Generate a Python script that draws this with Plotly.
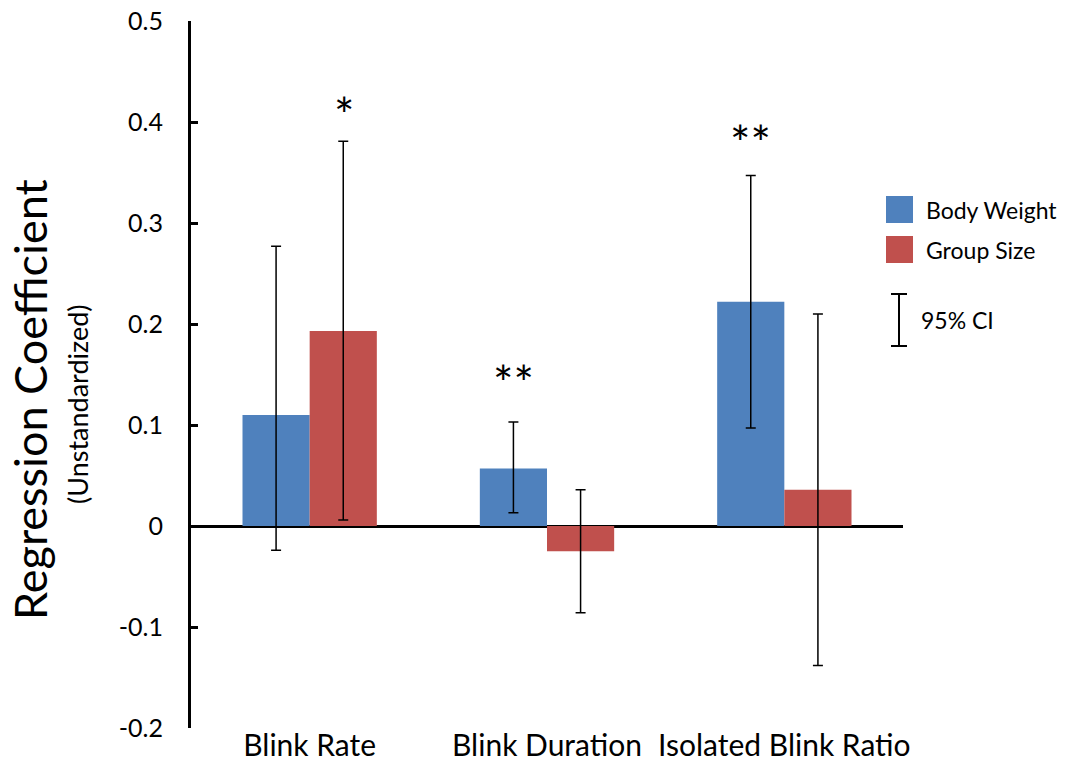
import plotly.graph_objects as go

categories = ["Blink Rate", "Blink Duration", "Isolated Blink Ratio"]
body_weight = [0.110, 0.057, 0.222]
body_weight_hi = [0.277, 0.103, 0.347]
body_weight_lo = [-0.024, 0.013, 0.097]
group_size = [0.193, -0.025, 0.036]
group_size_hi = [0.381, 0.036, 0.210]
group_size_lo = [0.006, -0.086, -0.138]
y_ticks = [-0.2, -0.1, 0, 0.1, 0.2, 0.3, 0.4, 0.5]
y_tick_labels = ["-0.2", "-0.1", "0", "0.1", "0.2", "0.3", "0.4", "0.5"]
stars = [("*", 0, 1, 0.415), ("**", 1, 0, 0.150), ("**", 2, 0, 0.388)]

W, H = 1075, 762
L, R, T, B = 191, 903, 21, 728   # plot area in window pixels
FONT = "Lato"
BLUE = "#4F81BD"
RED = "#C0504D"


def px(x):
    return (x - L) / (R - L)


def py(y):
    return (B - y) / (B - T)


fig = go.Figure()
fig.add_trace(go.Bar(
    x=categories, y=body_weight, name="Body Weight",
    marker=dict(color=BLUE, line=dict(width=0)),
    error_y=dict(type="data", symmetric=False,
                 array=[h - v for h, v in zip(body_weight_hi, body_weight)],
                 arrayminus=[v - l for v, l in zip(body_weight, body_weight_lo)],
                 color="black", thickness=1.5, width=5),
    showlegend=False,
))
fig.add_trace(go.Bar(
    x=categories, y=group_size, name="Group Size",
    marker=dict(color=RED, line=dict(width=0)),
    error_y=dict(type="data", symmetric=False,
                 array=[h - v for h, v in zip(group_size_hi, group_size)],
                 arrayminus=[v - l for v, l in zip(group_size, group_size_lo)],
                 color="black", thickness=1.5, width=5),
    showlegend=False,
))

annotations = []
for text, ci, series, yv in stars:
    annotations.append(dict(
        x=categories[ci], y=yv, xref="x", yref="y", text=text, showarrow=False,
        xshift=-34 if series == 0 else 34, yanchor="middle", yshift=-8,
        font=dict(family=FONT, size=48, color="black"),
    ))

# y-axis titles
annotations.append(dict(x=px(30), y=py(400), xref="paper", yref="paper",
                        text="Regression Coefficient", textangle=-90, showarrow=False,
                        xanchor="center", yanchor="middle",
                        font=dict(family=FONT, size=45, color="black")))
annotations.append(dict(x=px(78), y=py(404), xref="paper", yref="paper",
                        text="(Unstandardized)", textangle=-90, showarrow=False,
                        xanchor="center", yanchor="middle",
                        font=dict(family=FONT, size=27, color="black")))

# legend
shapes = []
legend_items = [("Body Weight", BLUE, 196, 223), ("Group Size", RED, 236, 263)]
for name, col, y0, y1 in legend_items:
    shapes.append(dict(type="rect", xref="paper", yref="paper",
                       x0=px(886), x1=px(913), y0=py(y1), y1=py(y0),
                       fillcolor=col, line=dict(width=0)))
    annotations.append(dict(x=px(924), y=py((y0 + y1) / 2), xref="paper", yref="paper",
                            text=name, showarrow=False, xanchor="left", yanchor="middle",
                            font=dict(family=FONT, size=23, color="black")))
# CI glyph
shapes.append(dict(type="line", xref="paper", yref="paper", x0=px(899), x1=px(899),
                   y0=py(294), y1=py(346), line=dict(color="black", width=2)))
for yy in (294, 346):
    shapes.append(dict(type="line", xref="paper", yref="paper", x0=px(891), x1=px(907),
                       y0=py(yy), y1=py(yy), line=dict(color="black", width=2)))
annotations.append(dict(x=px(919), y=py(320), xref="paper", yref="paper",
                        text="95% CI", showarrow=False, xanchor="left", yanchor="middle",
                        font=dict(family=FONT, size=23, color="black")))

fig.update_layout(
    width=W, height=H,
    margin=dict(l=L, r=W - R, t=T, b=H - B, autoexpand=False),
    paper_bgcolor="white", plot_bgcolor="white",
    barmode="group", bargap=0.434, bargroupgap=0,
    font=dict(family=FONT, color="black"),
    annotations=annotations, shapes=shapes,
    xaxis=dict(showline=False, showgrid=False, zeroline=False, ticks="",
               anchor="free", position=0.004,
               automargin=False, ticklabeloverflow="allow",
               tickfont=dict(family=FONT, size=30, color="black"),
               ticklabelstandoff=0),
    yaxis=dict(range=[-0.2, 0.5], tickvals=y_ticks, ticktext=y_tick_labels,
               automargin=False, ticklabeloverflow="allow",
               showline=True, linecolor="black", linewidth=3,
               ticks="inside", ticklen=7, tickwidth=3, tickcolor="black",
               showgrid=False, zeroline=True, zerolinecolor="black", zerolinewidth=3,
               tickfont=dict(family=FONT, size=25, color="black"),
               ticklabelstandoff=20),
)

fig.write_html(
    "out.html",
    config={"displayModeBar": False},
    post_script="document.body.style.margin='0';document.body.style.overflow='hidden';",
)
